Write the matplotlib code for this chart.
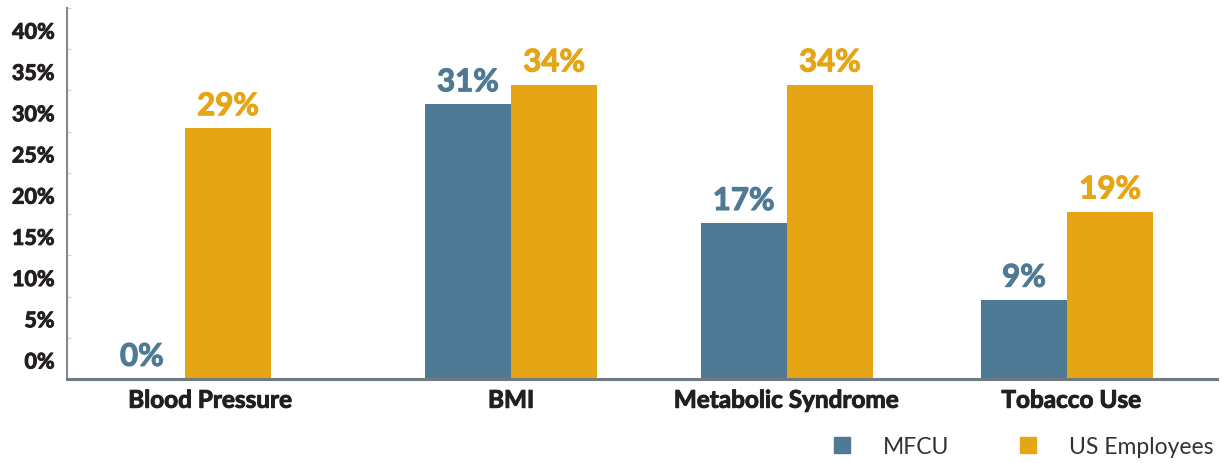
import numpy as np
import matplotlib
matplotlib.use("Agg")
import matplotlib.pyplot as plt
import matplotlib.transforms as mtransforms
import matplotlib.patheffects as pe
from matplotlib.lines import Line2D

plt.rcParams['font.family'] = ['Lato', 'DejaVu Sans']

# data (bar heights on the axis scale) and the printed labels
categories = ["Blood Pressure", "BMI", "Metabolic Syndrome", "Tobacco Use"]
mfcu = [0.0, 33.3, 18.9, 9.6]
us_emp = [30.4, 35.7, 35.7, 20.3]
mfcu_labels = ["0%", "31%", "17%", "9%"]
us_labels = ["29%", "34%", "34%", "19%"]
yticks = [0, 5, 10, 15, 20, 25, 30, 35, 40]
ytick_labels = ["0%", "5%", "10%", "15%", "20%", "25%", "30%", "35%", "40%"]

# layout
group_x = np.array([0.0, 1.173, 2.165, 3.173])
label_x = [0.09, 1.173, 2.162, 3.187]
width = 0.31
blue = '#4F7A95'
orange = '#E6A514'
dark = '#231F20'

fig = plt.figure(figsize=(12.22, 4.64), dpi=100)
ax = fig.add_axes([67/1222, 1-380/464, (1217-67)/1222, (380-9)/464])

ax.bar(group_x - width/2, mfcu, width, color=blue)
ax.bar(group_x + width/2, us_emp, width, color=orange)

for x, v, s in zip(group_x - width/2, mfcu, mfcu_labels):
    ax.annotate(s, (x, v), xytext=(0, 9.5), textcoords='offset points',
                ha='center', va='baseline', fontsize=22.5, fontweight='bold', color=blue,
                path_effects=[pe.withStroke(linewidth=0.8, foreground=blue)])
for x, v, s in zip(group_x + width/2, us_emp, us_labels):
    ax.annotate(s, (x, v), xytext=(0, 9.5), textcoords='offset points',
                ha='center', va='baseline', fontsize=22.5, fontweight='bold', color=orange,
                path_effects=[pe.withStroke(linewidth=0.8, foreground=orange)])

ax.set_xlim(-0.4245, 3.712)
ax.set_ylim(0, 45)

thick = [pe.withStroke(linewidth=0.7, foreground=dark)]

ax.set_yticks(yticks + [45])
ax.set_yticklabels(ytick_labels + [""], fontsize=15.5, fontweight='bold', color=dark)
ax.tick_params(axis='y', direction='in', length=3, width=0.8, color='#D0D4D7', pad=9)
# labels sit half a step above their tick marks
shift = mtransforms.ScaledTranslation(0, 19/100, fig.dpi_scale_trans)
for lab in ax.get_yticklabels():
    lab.set_transform(lab.get_transform() + shift)
    lab.set_path_effects(thick)

ax.set_xticks(label_x)
ax.set_xticklabels(categories, fontsize=17.5, fontweight='bold', color=dark)
ax.tick_params(axis='x', length=0, pad=7)
for lab in ax.get_xticklabels():
    lab.set_path_effects(thick)

for side in ['top', 'right']:
    ax.spines[side].set_visible(False)
ax.spines['left'].set_color('#7F8A90')
ax.spines['left'].set_linewidth(1.5)
ax.spines['bottom'].set_color('#6F7B82')
ax.spines['bottom'].set_linewidth(2.2)

handles = [Line2D([], [], marker='s', linestyle='none', markersize=12, color=blue),
           Line2D([], [], marker='s', linestyle='none', markersize=12, color=orange)]
fig.legend(handles, ["MFCU", "US Employees"], loc='center left',
           bbox_to_anchor=(830.5/1222, 1-448/464), ncol=2, frameon=False,
           fontsize=16.5, labelcolor='#333333', handlelength=1, handletextpad=1.29,
           columnspacing=2.95, borderpad=0, borderaxespad=0)

fig.savefig('out.png', dpi=100)
